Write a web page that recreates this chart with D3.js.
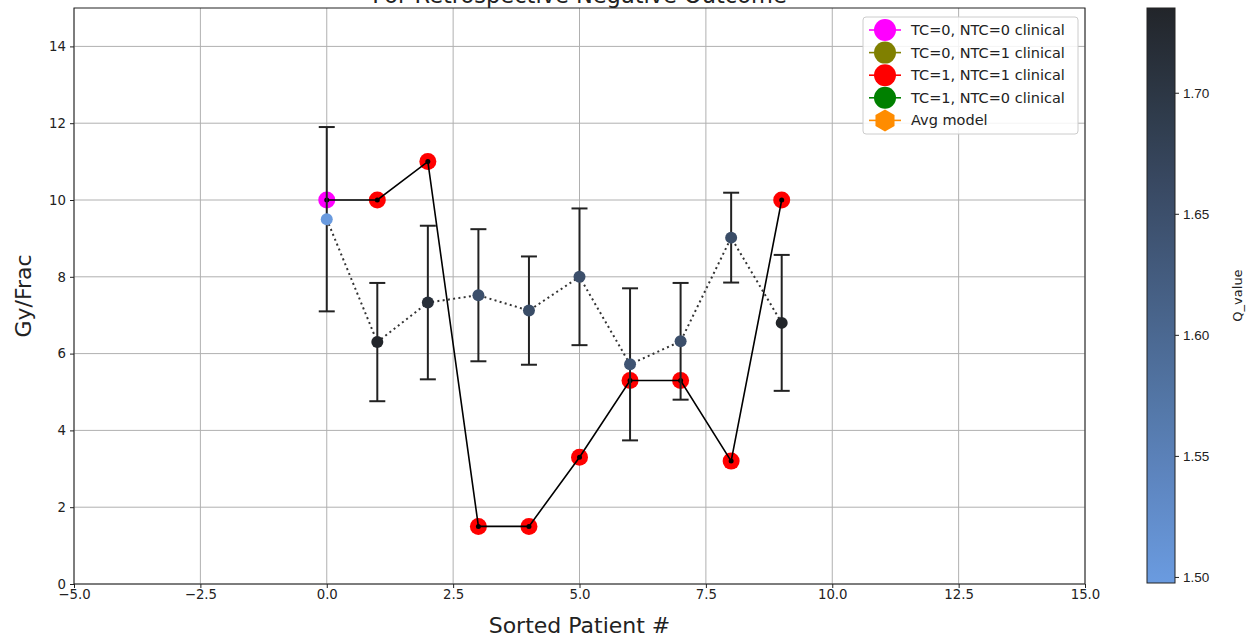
<!DOCTYPE html>
<html>
<head>
<meta charset="utf-8">
<script src="https://cdn.jsdelivr.net/npm/d3@7"></script>
<style>
  html, body { margin: 0; padding: 0; background: #fff; }
  svg { display: block; font-family: "DejaVu Sans", sans-serif; }
</style>
</head>
<body>
<svg id="chart" width="1247" height="639"></svg>
<script>
// ---- data ----
const patients = [0, 1, 2, 3, 4, 5, 6, 7, 8, 9];
const clinicalValues = [10, 10, 11, 1.5, 1.5, 3.3, 5.3, 5.3, 3.2, 10];
const clinicalGroups = ["TC=0, NTC=0 clinical", "TC=1, NTC=1 clinical", "TC=1, NTC=1 clinical", "TC=1, NTC=1 clinical", "TC=1, NTC=1 clinical", "TC=1, NTC=1 clinical", "TC=1, NTC=1 clinical", "TC=1, NTC=1 clinical", "TC=1, NTC=1 clinical", "TC=1, NTC=1 clinical"];
const modelValues = [9.5, 6.3, 7.33, 7.52, 7.12, 8.0, 5.72, 6.32, 9.02, 6.8];
const modelErrors = [2.4, 1.54, 2.0, 1.72, 1.41, 1.78, 1.98, 1.52, 1.17, 1.77];
const qValues = [1.50, 1.735, 1.715, 1.65, 1.655, 1.65, 1.64, 1.65, 1.655, 1.735];
const legendLabels = ["TC=0, NTC=0 clinical", "TC=0, NTC=1 clinical", "TC=1, NTC=1 clinical", "TC=1, NTC=0 clinical", "Avg model"];
const legendColors = ["#ff00ff", "#808000", "#ff0000", "#008000", "#ff8c00"];
const xTicks = [-5, -2.5, 0, 2.5, 5, 7.5, 10, 12.5, 15];
const yTicks = [0, 2, 4, 6, 8, 10, 12, 14];
const cbTicks = [1.50, 1.55, 1.60, 1.65, 1.70];
const qDomain = [1.4975, 1.735];

const groupColor = d3.scaleOrdinal().domain(legendLabels).range(legendColors);

// ---- layout ----
const svg = d3.select("#chart");
const L = 74, R = 1085, T = 8, B = 584;
const x = d3.scaleLinear().domain([-5, 15]).range([L, R]);
const y = d3.scaleLinear().domain([0, 15]).range([B, T]);
const qColor = d3.scaleLinear().domain(qDomain).range(["#6a9be0", "#22252a"]).interpolate(d3.interpolateRgb);

// grid
svg.append("g").selectAll("line").data(xTicks).join("line")
  .attr("x1", d => x(d)).attr("x2", d => x(d)).attr("y1", T).attr("y2", B)
  .attr("stroke", "#b0b0b0").attr("stroke-width", 1);
svg.append("g").selectAll("line").data(yTicks).join("line")
  .attr("x1", L).attr("x2", R).attr("y1", d => y(d)).attr("y2", d => y(d))
  .attr("stroke", "#b0b0b0").attr("stroke-width", 1);

// axes
const xAxis = d3.axisBottom(x).tickValues(xTicks).tickFormat(d3.format(".1f")).tickSize(4).tickPadding(2);
const yAxis = d3.axisLeft(y).tickValues(yTicks).tickFormat(d3.format("d")).tickSize(4).tickPadding(4);
const gx = svg.append("g").attr("transform", `translate(0,${B})`).call(xAxis);
const gy = svg.append("g").attr("transform", `translate(${L},0)`).call(yAxis);
[gx, gy].forEach(g => {
  g.select(".domain").remove();
  g.selectAll("text").attr("font-size", 13.3).attr("fill", "#222").attr("font-family", "DejaVu Sans");
  g.selectAll(".tick line").attr("stroke", "#222");
});
gx.selectAll("text").text(d => d3.format(".1f")(d).replace("-", "\u2212"));

// frame
svg.append("rect").attr("x", L).attr("y", T).attr("width", R - L).attr("height", B - T)
  .attr("fill", "none").attr("stroke", "#222").attr("stroke-width", 1);

// title (clipped at top)
svg.append("text").attr("x", (L + R) / 2).attr("y", 3).attr("text-anchor", "middle")
  .attr("font-size", 22.5).attr("fill", "#222").text("For Retrospective Negative Outcome");

// axis labels
svg.append("text").attr("x", (L + R) / 2).attr("y", 633).attr("text-anchor", "middle")
  .attr("font-size", 22).attr("fill", "#222").text("Sorted Patient #");
svg.append("text").attr("transform", `translate(31,${(T + B) / 2}) rotate(-90)`).attr("text-anchor", "middle")
  .attr("font-size", 22).attr("fill", "#222").text("Gy/Frac");

// clinical markers
svg.append("g").selectAll("circle").data(patients).join("circle")
  .attr("cx", d => x(d)).attr("cy", (d, i) => y(clinicalValues[i])).attr("r", 8.5)
  .attr("fill", (d, i) => groupColor(clinicalGroups[i]));

// clinical line
const line = d3.line().x(d => x(d[0])).y(d => y(d[1]));
svg.append("path").datum(patients.map((p, i) => [p, clinicalValues[i]]))
  .attr("d", line).attr("fill", "none").attr("stroke", "#000").attr("stroke-width", 1.6);
svg.append("g").selectAll("circle").data(patients).join("circle")
  .attr("cx", d => x(d)).attr("cy", (d, i) => y(clinicalValues[i])).attr("r", 2.5).attr("fill", "#000");

// error bars
const eb = svg.append("g").attr("stroke", "#222").attr("stroke-width", 2);
patients.forEach((p, i) => {
  const lo = y(modelValues[i] - modelErrors[i]), hi = y(modelValues[i] + modelErrors[i]);
  eb.append("line").attr("x1", x(p)).attr("x2", x(p)).attr("y1", lo).attr("y2", hi);
  eb.append("line").attr("x1", x(p) - 8).attr("x2", x(p) + 8).attr("y1", lo).attr("y2", lo);
  eb.append("line").attr("x1", x(p) - 8).attr("x2", x(p) + 8).attr("y1", hi).attr("y2", hi);
});

// model dotted line
svg.append("path").datum(patients.map((p, i) => [p, modelValues[i]]))
  .attr("d", line).attr("fill", "none").attr("stroke", "#333").attr("stroke-width", 2)
  .attr("stroke-dasharray", "2,3.3");

// model markers
svg.append("g").selectAll("circle").data(patients).join("circle")
  .attr("cx", d => x(d)).attr("cy", (d, i) => y(modelValues[i])).attr("r", 6)
  .attr("fill", (d, i) => qColor(qValues[i]));

// legend
const lg = svg.append("g");
lg.append("rect").attr("x", 863).attr("y", 17).attr("width", 215).attr("height", 117).attr("rx", 3)
  .attr("fill", "#fff").attr("fill-opacity", 0.85).attr("stroke", "#ccc");
legendLabels.forEach((lab, i) => {
  const yy = 30 + i * 22.6;
  const c = legendColors[i];
  lg.append("line").attr("x1", 869).attr("x2", 901).attr("y1", yy).attr("y2", yy)
    .attr("stroke", c).attr("stroke-width", 1.6);
  if (i < 4) {
    lg.append("circle").attr("cx", 885).attr("cy", yy).attr("r", 11).attr("fill", c);
  } else {
    const hex = d3.range(6).map(k => {
      const a = Math.PI / 6 + k * Math.PI / 3;
      return [885 + 11 * Math.cos(a), yy + 11 * Math.sin(a)];
    });
    lg.append("polygon").attr("points", hex.map(p => p.join(",")).join(" ")).attr("fill", c);
  }
  lg.append("text").attr("x", 911).attr("y", yy + 5).attr("font-size", 14.5).attr("fill", "#222").text(lab);
});

// colorbar
const cbX = 1147, cbW = 28, cbT = 8, cbB = 583;
const cy = d3.scaleLinear().domain(qDomain).range([cbB, cbT]);
const defs = svg.append("defs");
const grad = defs.append("linearGradient").attr("id", "cbgrad").attr("x1", 0).attr("x2", 0).attr("y1", 1).attr("y2", 0);
d3.range(0, 1.0001, 0.1).forEach(t => {
  grad.append("stop").attr("offset", t).attr("stop-color", qColor(qDomain[0] + t * (qDomain[1] - qDomain[0])));
});
svg.append("rect").attr("x", cbX).attr("y", cbT).attr("width", cbW).attr("height", cbB - cbT)
  .attr("fill", "url(#cbgrad)").attr("stroke", "#222").attr("stroke-width", 1);
const cbAxis = d3.axisRight(cy).tickValues(cbTicks).tickFormat(d3.format(".2f")).tickSize(4).tickPadding(4);
const gcb = svg.append("g").attr("transform", `translate(${cbX + cbW},0)`).call(cbAxis);
gcb.select(".domain").remove();
gcb.selectAll("text").attr("font-size", 13.5).attr("fill", "#222");
gcb.selectAll(".tick line").attr("stroke", "#222");
svg.append("text").attr("transform", `translate(1242,${(cbT + cbB) / 2}) rotate(-90)`).attr("text-anchor", "middle")
  .attr("font-size", 13).attr("fill", "#222").text("Q_value");
</script>
</body>
</html>
